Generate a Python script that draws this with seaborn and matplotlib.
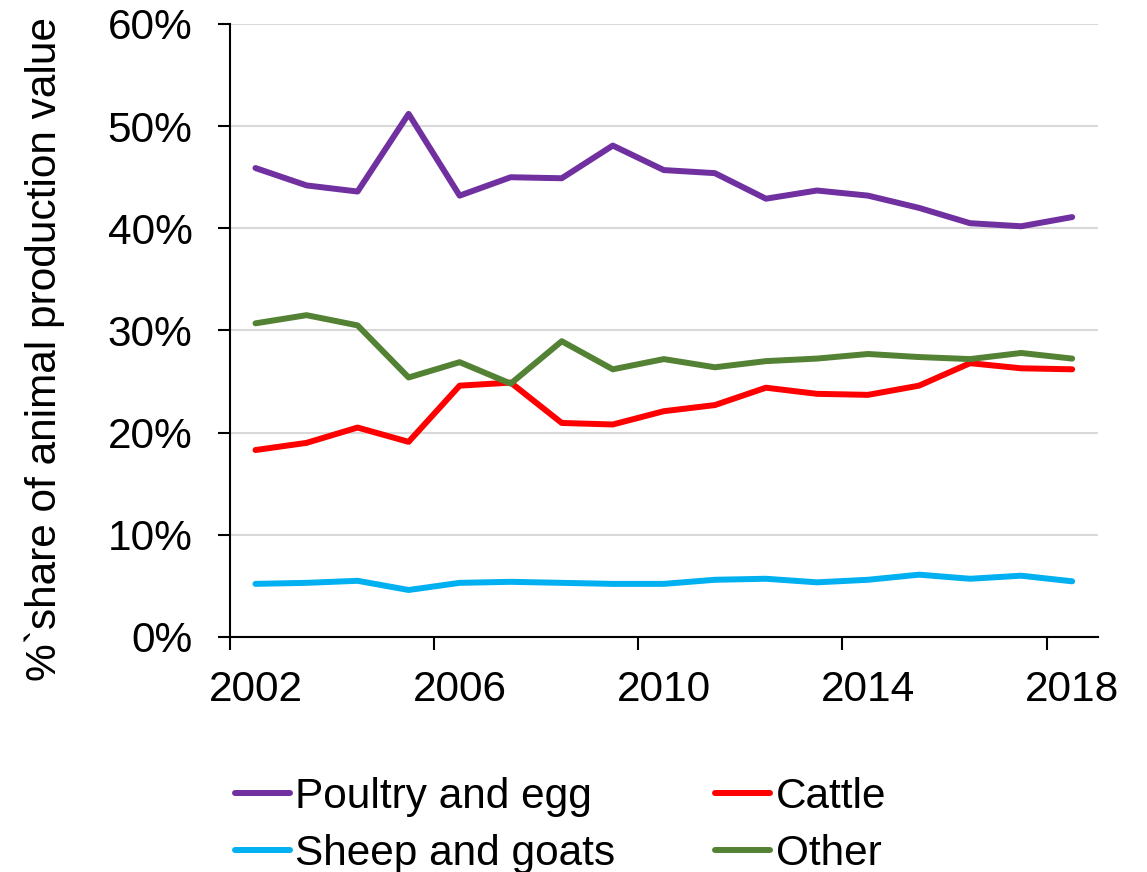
import numpy as np
import pandas as pd
import seaborn as sns
import matplotlib.pyplot as plt
from matplotlib.ticker import FixedLocator, PercentFormatter

# 数据 (share of animal production value, %)
years = list(range(2002, 2019))
poultry = [45.9, 44.2, 43.6, 51.2, 43.2, 45.0, 44.9, 48.1, 45.7, 45.4,
           42.9, 43.7, 43.2, 42.0, 40.5, 40.2, 41.1]
cattle = [18.3, 19.0, 20.5, 19.1, 24.6, 24.9, 20.95, 20.8, 22.1, 22.7,
          24.4, 23.8, 23.7, 24.6, 26.8, 26.3, 26.2]
sheep = [5.2, 5.3, 5.5, 4.6, 5.3, 5.4, 5.3, 5.2, 5.2, 5.6,
         5.7, 5.35, 5.6, 6.1, 5.7, 6.0, 5.45]
other = [30.7, 31.5, 30.5, 25.4, 26.9, 24.8, 28.95, 26.2, 27.2, 26.4,
         27.0, 27.25, 27.7, 27.4, 27.2, 27.8, 27.25]

series_names = ['Poultry and egg', 'Cattle', 'Sheep and goats', 'Other']
colors = ['#7030A0', '#FF0000', '#00B0F0', '#548235']
label_years = [2002, 2006, 2010, 2014, 2018]

df = pd.DataFrame({'Year': years, 'Poultry and egg': poultry, 'Cattle': cattle,
                   'Sheep and goats': sheep, 'Other': other})
long_df = df.melt(id_vars='Year', var_name='Series', value_name='Share')

sns.set_style('white')
plt.rcParams['font.family'] = ['Liberation Sans', 'DejaVu Sans']
plt.rcParams['font.size'] = 30.5
plt.rcParams['text.color'] = 'black'
plt.rcParams['axes.labelcolor'] = 'black'
plt.rcParams['xtick.color'] = 'black'
plt.rcParams['ytick.color'] = 'black'

lw = 4.3

fig = plt.figure(figsize=(11.47, 8.72), dpi=100)
ax = fig.add_axes([0.2005, 0.2695, 0.7565, 0.703])

sns.lineplot(data=long_df, x='Year', y='Share', hue='Series', hue_order=series_names,
             palette=colors, linewidth=lw, ax=ax, legend=False)

ax.set_xlim(2001.5, 2018.5)
ax.set_ylim(0, 60)
ax.set_yticks(np.arange(0, 61, 10))
ax.yaxis.set_major_formatter(PercentFormatter(decimals=0))
ax.yaxis.grid(True, color='#D9D9D9', linewidth=1.5)
ax.set_axisbelow(True)

# 年份标签居中, 刻度线在分类边界
ax.set_xticks(label_years)
ax.set_xticklabels([str(y) for y in label_years])
ax.xaxis.set_minor_locator(FixedLocator([y - 0.5 for y in label_years]))
ax.tick_params(axis='x', which='major', length=0, pad=24, labelsize=30.5)
ax.tick_params(axis='x', which='minor', length=9, width=1.5, color='black', bottom=True)
ax.tick_params(axis='y', length=9, width=1.5, color='black', left=True, pad=18, labelsize=30.5)

for side in ['top', 'right']:
    ax.spines[side].set_visible(False)
for side in ['left', 'bottom']:
    ax.spines[side].set_color('black')
    ax.spines[side].set_linewidth(1.5)

ax.set_xlabel('')
ax.set_ylabel('%`share of animal production value', fontsize=30.5)
ax.yaxis.set_label_coords(-0.19, 0.47)

# 图例: 两列
handles = [plt.Line2D([], [], color=c, linewidth=lw, solid_capstyle='round') for c in colors]
order = [0, 2, 1, 3]
fig.legend([handles[i] for i in order], [series_names[i] for i in order],
           loc='upper left', bbox_to_anchor=(0.205, 0.109), ncol=2, frameon=False,
           fontsize=30.5, handlelength=1.3, handletextpad=0.12, columnspacing=2.36,
           labelspacing=0.4, borderpad=0, borderaxespad=0)

fig.savefig('out.png', dpi=100)
